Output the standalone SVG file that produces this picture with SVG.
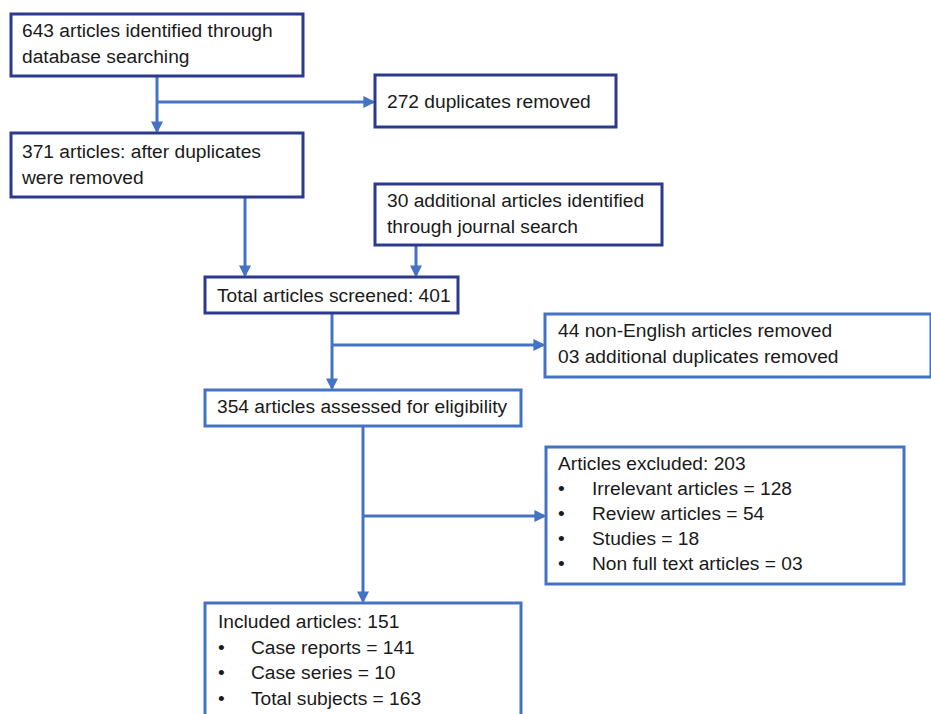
<svg xmlns="http://www.w3.org/2000/svg" width="931" height="714" viewBox="0 0 931 714">
<style>
text{font-family:"Liberation Sans",Arial,sans-serif;font-size:19.2px;fill:#1a1a1a}
.dk{fill:#fff;stroke:#2B3A8C;stroke-width:3}
.lt{fill:#fff;stroke:#4472C4;stroke-width:3}
.c{fill:none;stroke:#4472C4;stroke-width:3}
</style>
<defs>
<marker id="ah" markerWidth="4" markerHeight="4" refX="3.2" refY="2" orient="auto" markerUnits="strokeWidth">
<path d="M0,0 L4,2 L0,4 Z" fill="#4472C4"/>
</marker>
</defs>
<rect width="931" height="714" fill="#fff"/>
<g id="connectors">
<path class="c" d="M157,76 V131" marker-end="url(#ah)"/>
<path class="c" d="M157,102 H373" marker-end="url(#ah)"/>
<path class="c" d="M245,197 V275" marker-end="url(#ah)"/>
<path class="c" d="M416,245 V275" marker-end="url(#ah)"/>
<path class="c" d="M332,313 V388" marker-end="url(#ah)"/>
<path class="c" d="M332,345 H543" marker-end="url(#ah)"/>
<path class="c" d="M363,426 V601" marker-end="url(#ah)"/>
<path class="c" d="M363,516 H544" marker-end="url(#ah)"/>
</g>
<g id="n1"><rect class="dk" x="11" y="14" width="292" height="62"/>
<text x="22" y="37">643 articles identified through</text><text x="22" y="63">database searching</text></g>
<g id="n2"><rect class="dk" x="375" y="75" width="241" height="52"/>
<text x="387" y="108">272 duplicates removed</text></g>
<g id="n3"><rect class="dk" x="11" y="133" width="292" height="64"/>
<text x="22" y="158">371 articles: after duplicates</text><text x="22" y="184">were removed</text></g>
<g id="n4"><rect class="dk" x="375" y="184" width="287" height="61"/>
<text x="387" y="207">30 additional articles identified</text><text x="387" y="233">through journal search</text></g>
<g id="n5"><rect class="dk" x="205" y="277" width="253" height="36"/>
<text x="217" y="302">Total articles screened: 401</text></g>
<g id="n6"><rect class="lt" x="545" y="314" width="386" height="63"/>
<text x="558" y="337">44 non-English articles removed</text><text x="558" y="363">03 additional duplicates removed</text></g>
<g id="n7"><rect class="lt" x="205" y="390" width="316" height="36"/>
<text x="217" y="413">354 articles assessed for eligibility</text></g>
<g id="n8"><rect class="lt" x="546" y="447" width="358" height="137"/>
<text x="558" y="470">Articles excluded: 203</text>
<text x="558" y="495">•</text><text x="592" y="495">Irrelevant articles = 128</text>
<text x="558" y="520">•</text><text x="592" y="520">Review articles = 54</text>
<text x="558" y="545">•</text><text x="592" y="545">Studies = 18</text>
<text x="558" y="570">•</text><text x="592" y="570">Non full text articles = 03</text></g>
<g id="n9"><rect class="lt" x="205" y="603" width="316" height="130"/>
<text x="218" y="628">Included articles: 151</text>
<text x="218" y="654">•</text><text x="251" y="654">Case reports = 141</text>
<text x="218" y="679">•</text><text x="251" y="679">Case series = 10</text>
<text x="218" y="705">•</text><text x="251" y="705">Total subjects = 163</text></g>
</svg>
